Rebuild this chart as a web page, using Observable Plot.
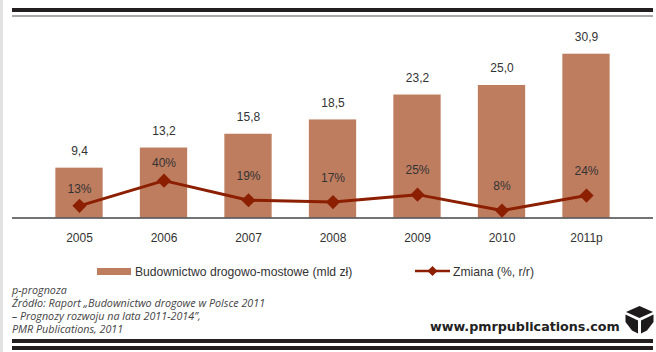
<!DOCTYPE html>
<html lang="pl">
<head>
<meta charset="utf-8">
<script src="https://cdn.jsdelivr.net/npm/d3@7"></script>
<script src="https://cdn.jsdelivr.net/npm/@observablehq/plot@0.6"></script>
<style>
  html, body { margin: 0; padding: 0; background: #fff; }
  #page { position: relative; width: 656px; height: 352px; overflow: hidden; background: #fff;
          font-family: "Liberation Sans", Arial, sans-serif; color: #333; }
  #page > * { position: absolute; }
  #chart svg { display: block; background: transparent; }
  .bar-rule { left: 12px; width: 641px; }
  .legend-text { font-size: 12.15px; line-height: 14px; white-space: nowrap; color: #333; }
  #notes { left: 12px; top: 284px; font: italic 10.75px/13px "Open Sans", sans-serif; color: #444; white-space: nowrap; }
  #site { left: 430px; top: 319px; font: bold 12.7px/16px "DejaVu Sans", sans-serif; color: #222; white-space: nowrap; }
</style>
</head>
<body>
<div id="page">
  <div style="left:0;top:0;width:2.5px;height:352px;background:#e2e2e2"></div>
  <div class="bar-rule" style="top:8px;height:4px;background:#231f20"></div>
  <div class="bar-rule" style="top:15px;height:2px;background:#a9a9a9"></div>
  <div id="chart" style="left:0;top:0"></div>

  <div style="left:97px;top:268px;width:34px;height:7px;background:#bf7d60"></div>
  <div class="legend-text" style="left:135px;top:265px">Budownictwo drogowo-mostowe (mld zł)</div>
  <svg style="left:415px;top:264px" width="36" height="14">
    <line x1="0" x2="35" y1="7" y2="7" stroke="#8b1f00" stroke-width="2.5"/>
    <path d="M17.5 2L22.5 7L17.5 12L12.5 7Z" fill="#8b1f00"/>
  </svg>
  <div class="legend-text" style="left:453px;top:265px">Zmiana (%, r/r)</div>

  <div id="notes">p-prognoza<br>Źródło: Raport „Budownictwo drogowe w Polsce 2011<br>– Prognozy rozwoju na lata 2011-2014”,<br>PMR Publications, 2011</div>
  <div id="site">www.pmrpublications.com</div>
  <svg style="left:625px;top:305px" width="29" height="29" viewBox="0 0 29 29">
    <path d="M14.5 1L28 7L14.5 13L1 7Z" fill="#1c1a1b"/>
    <path d="M0.5 9.5L13 15.5V28.5L7 25.5L0.5 17Z" fill="#1c1a1b"/>
    <path d="M28.5 9.5L16 15.5V28.5L22 25.5L28.5 17Z" fill="#1c1a1b"/>
  </svg>

  <div class="bar-rule" style="top:339px;height:4px;background:#231f20"></div>
  <div class="bar-rule" style="top:346px;height:4px;background:#231f20"></div>
</div>

<script>
// Road and bridge construction output with its year-on-year change.
const years = ["2005", "2006", "2007", "2008", "2009", "2010", "2011p"];
const valueBn = [9.4, 13.2, 15.8, 18.5, 23.2, 25.0, 30.9];
const changePct = [13, 40, 19, 17, 25, 8, 24];
const closeLabelYears = ["2005", "2006"];

const rows = years.map((year, i) => ({ year, value: valueBn[i], change: changePct[i] }));

// The change series shares the plot area, on its own smaller scale.
const changeToAxis = d3.scaleLinear().domain([0, 40]).range([0, 7.05]);
const comma = d3.format(".1f");
const ink = "#333";
const lineColor = "#8b1f00";

const chart = Plot.plot({
  width: 656,
  height: 352,
  marginLeft: 12,
  marginRight: 3,
  marginTop: 20,
  marginBottom: 134.5,
  style: { background: "transparent", fontFamily: "'Liberation Sans', Arial, sans-serif", fontSize: "12px", color: ink },
  x: { domain: years, range: [36.75, 628.25], paddingInner: 0.44, paddingOuter: 0.22, round: false, label: null },
  y: { domain: [0, 30.9], range: [217.5, 53.7], axis: null, label: null },
  marks: [
    Plot.barY(rows, { x: "year", y: "value", fill: "#bf7d60" }),
    Plot.ruleY([0], { stroke: "#444", strokeWidth: 1.6 }),
    Plot.axisX({ tickSize: 0, tickPadding: 15, fontSize: 12, fill: ink, label: null }),
    Plot.line(rows, { x: "year", y: d => changeToAxis(d.change), stroke: lineColor, strokeWidth: 3, curve: "linear" }),
    Plot.dot(rows, { x: "year", y: d => changeToAxis(d.change), symbol: "diamond2", r: 6.4, fill: lineColor, stroke: "none" }),
    Plot.text(rows, { x: "year", y: "value", text: d => comma(d.value).replace(".", ","), dy: -17, fontSize: 12, fill: ink }),
    Plot.text(rows.filter(d => closeLabelYears.includes(d.year)), { x: "year", y: d => changeToAxis(d.change), text: d => d.change + "%", dy: -17, fontSize: 12, fill: ink }),
    Plot.text(rows.filter(d => !closeLabelYears.includes(d.year)), { x: "year", y: d => changeToAxis(d.change), text: d => d.change + "%", dy: -24, fontSize: 12, fill: ink })
  ]
});
document.getElementById("chart").appendChild(chart);
</script>
</body>
</html>
